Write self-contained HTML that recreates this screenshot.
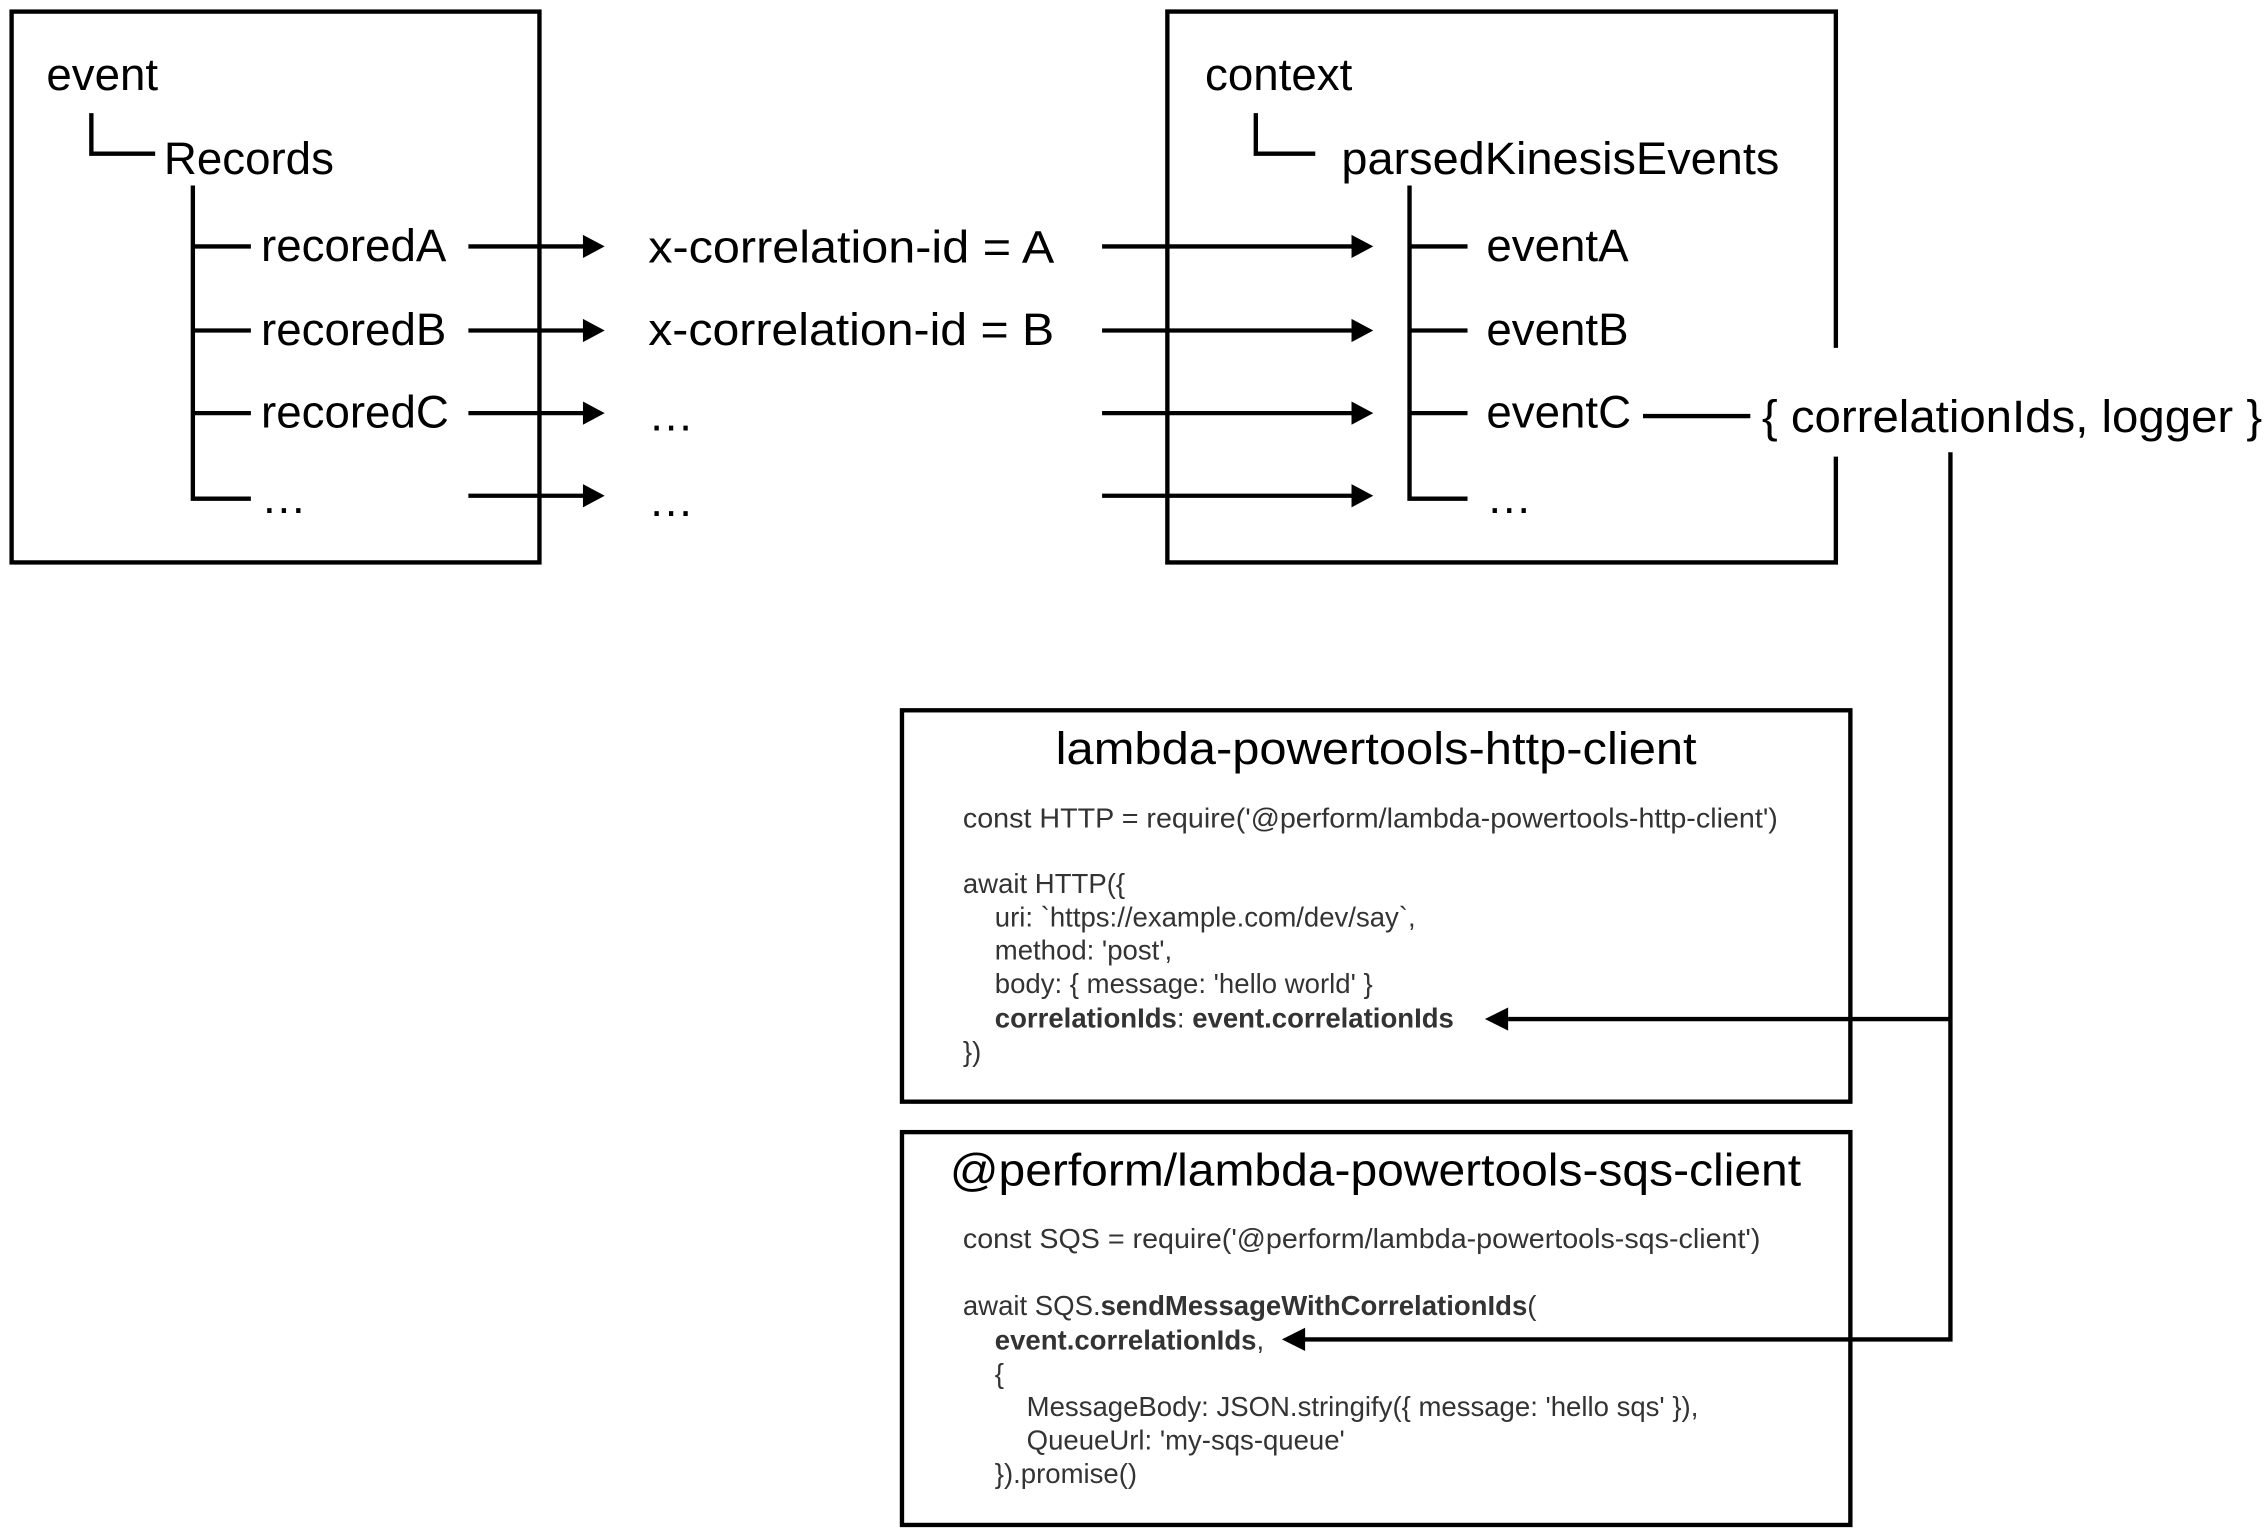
<!DOCTYPE html>
<html><head><meta charset="utf-8"><style>html,body{margin:0;padding:0;background:#fff}svg{display:block}</style></head>
<body>
<svg width="2268" height="1538" viewBox="0 0 1564 1061" preserveAspectRatio="none" xmlns="http://www.w3.org/2000/svg">
<g fill="none" stroke="#000" stroke-width="3">
<rect x="8" y="8" width="364" height="380"/>
<path d="M805,240 V8 H1266 V240 M1266,315 V388 H805 V240"/>
<rect x="622" y="490" width="654" height="270"/>
<rect x="622" y="781" width="654" height="271"/>
<path d="M63,78 V106 H107"/>
<path d="M133,128 V344 H173 M133,170 H173 M133,228 H173 M133,285 H173"/>
<path d="M866,78 V106 H907"/>
<path d="M972,128 V344 H1012 M972,170 H1012 M972,228 H1012 M972,285 H1012"/>
<path d="M1133,287 H1207"/>
<path d="M1345,312 V924 H897 M1345,703 H1040"/>
<path d="M323,170 H404 M323,228 H404 M323,285 H404 M323,342 H404"/>
<path d="M760,170 H934 M760,228 H934 M760,285 H934 M760,342 H934"/>
</g>
<g fill="#000">
<path d="M402,162 L417,170 L402,178 z M402,220 L417,228 L402,236 z M402,277 L417,285 L402,293 z M402,334 L417,342 L402,350 z"/>
<path d="M932,162 L947,170 L932,178 z M932,220 L947,228 L932,236 z M932,277 L947,285 L932,293 z M932,334 L947,342 L932,350 z"/>
<path d="M1040,695 L1024,703 L1040,711 z M900,916 L884,924 L900,932 z"/>
</g>
<g font-family="Liberation Sans, sans-serif" font-size="31.5" fill="#000">
<text x="32" y="62">event</text>
<text x="113" y="120">Records</text>
<text x="180" y="180">recoredA</text>
<text x="180" y="238">recoredB</text>
<text x="180" y="295">recoredC</text>
<text x="180" y="354">…</text>
<text x="447" y="181" textLength="280" lengthAdjust="spacingAndGlyphs">x-correlation-id = A</text>
<text x="447" y="238" textLength="280" lengthAdjust="spacingAndGlyphs">x-correlation-id = B</text>
<text x="447" y="297">…</text>
<text x="447" y="356">…</text>
<text x="831" y="62">context</text>
<text x="925" y="120" textLength="302" lengthAdjust="spacingAndGlyphs">parsedKinesisEvents</text>
<text x="1025" y="180">eventA</text>
<text x="1025" y="238">eventB</text>
<text x="1025" y="295">eventC</text>
<text x="1025" y="354">…</text>
<text x="1215" y="298" textLength="345" lengthAdjust="spacingAndGlyphs">{ correlationIds, logger }</text>
<text x="728" y="527" textLength="442" lengthAdjust="spacingAndGlyphs">lambda-powertools-http-client</text>
<text x="655" y="818" textLength="587" lengthAdjust="spacingAndGlyphs">@perform/lambda-powertools-sqs-client</text>
</g>
<g font-family="Liberation Sans, sans-serif" font-size="19" fill="#333">
<text x="664" y="571" textLength="562" lengthAdjust="spacingAndGlyphs">const HTTP = require('@perform/lambda-powertools-http-client')</text>
<text x="664" y="616">await HTTP({</text>
<text x="686" y="639">uri: `https://example.com/dev/say`,</text>
<text x="686" y="662">method: 'post',</text>
<text x="686" y="685">body: { message: 'hello world' }</text>
<text x="686" y="709"><tspan font-weight="bold">correlationIds</tspan>: <tspan font-weight="bold">event.correlationIds</tspan></text>
<text x="664" y="732">})</text>
<text x="664" y="861" textLength="550" lengthAdjust="spacingAndGlyphs">const SQS = require('@perform/lambda-powertools-sqs-client')</text>
<text x="664" y="907">await SQS.<tspan font-weight="bold">sendMessageWithCorrelationIds</tspan>(</text>
<text x="686" y="931"><tspan font-weight="bold">event.correlationIds</tspan>,</text>
<text x="686" y="954">{</text>
<text x="708" y="977">MessageBody: JSON.stringify({ message: 'hello sqs' }),</text>
<text x="708" y="1000">QueueUrl: 'my-sqs-queue'</text>
<text x="686" y="1023">}).promise()</text>
</g>
</svg>
</body></html>
